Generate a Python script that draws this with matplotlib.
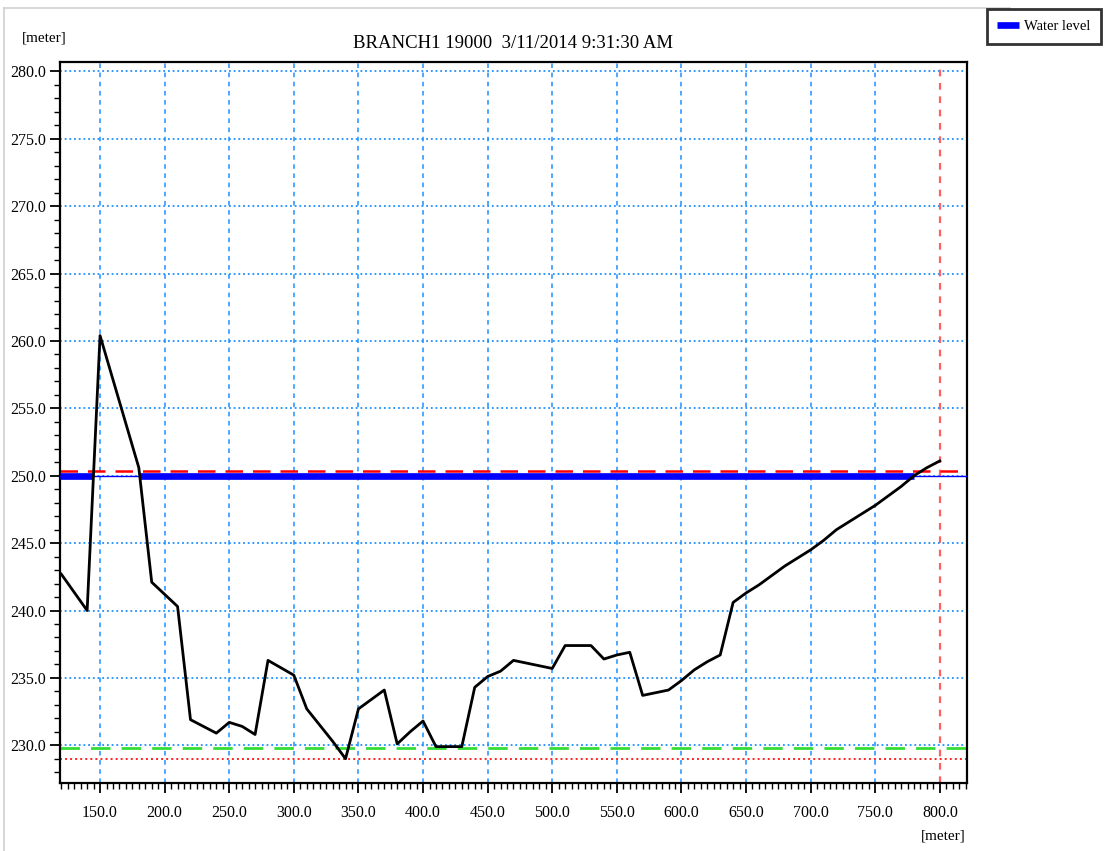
import numpy as np
import matplotlib.pyplot as plt
from matplotlib.lines import Line2D
from matplotlib.ticker import MultipleLocator, FormatStrFormatter

plt.rcParams['font.family'] = ['Liberation Serif', 'DejaVu Serif']

# cross section (chainage [m], bed level [m])
chainage = [120, 140, 150, 180, 190, 210, 220, 240, 250, 260, 270, 280, 300,
            310, 320, 330, 340, 350, 360, 370, 380, 390, 400, 410, 420, 430,
            440, 450, 460, 470, 480, 490, 500, 510, 520, 530, 540, 550, 560,
            570, 580, 590, 600, 610, 620, 630, 640, 650, 660, 670, 680, 690,
            700, 710, 720, 730, 740, 750, 760, 770, 780, 790, 800]
bed_level = [242.7, 240.0, 260.4, 250.6, 242.1, 240.3, 231.9, 230.9, 231.7,
             231.4, 230.8, 236.3, 235.2, 232.7, 231.5, 230.3, 229.0, 232.7,
             233.4, 234.1, 230.1, 231.0, 231.8, 229.9, 229.9, 229.9, 234.3,
             235.1, 235.5, 236.3, 236.1, 235.9, 235.7, 237.4, 237.4, 237.4,
             236.4, 236.7, 236.9, 233.7, 233.9, 234.1, 234.8, 235.6, 236.2,
             236.7, 240.6, 241.3, 241.9, 242.6, 243.3, 243.9, 244.5, 245.2,
             246.0, 246.6, 247.2, 247.8, 248.5, 249.2, 250.0, 250.6, 251.1]

water_level = 250.0
max_level = 250.35     # red dashed
min_level_1 = 229.8    # green dashed
min_level_2 = 229.0    # red dotted
right_marker = 800.0

title = "BRANCH1 19000  3/11/2014 9:31:30 AM"

fig = plt.figure(figsize=(11.07, 8.51), dpi=100)
ax = fig.add_axes([0.0542, 0.0799, 0.8193, 0.8472])

xmin, xmax = 119.0, 821.0
ax.set_xlim(xmin, xmax)
ax.set_ylim(227.2, 280.7)

# grid
grid_blue = '#1E90FF'
for xv in np.arange(150, 800, 50):
    ax.axvline(xv, color=grid_blue, lw=1.1, ls=(0, (3, 3)), zorder=1)
for yv in np.arange(230, 281, 5):
    ax.axhline(yv, color=grid_blue, lw=1.3, ls=(0, (1, 1.6)), zorder=1)
ax.axvline(right_marker, color='#FF6060', lw=1.6, ls=(0, (3, 3)), zorder=1)

# reference levels
ax.axhline(min_level_2, color='#FF2020', lw=1.4, ls=(0, (1, 1.6)), zorder=2)
ax.axhline(min_level_1, color='#33DD33', lw=2.0, ls=(0, (7, 4)), zorder=2)
ax.axhline(max_level, color='#FF0000', lw=1.8, ls=(0, (7, 4)), zorder=2)
ax.axhline(water_level, color='#0000FF', lw=1.0, zorder=3)

# thick water level where the bed lies below it
x = np.array(chainage, dtype=float)
z = np.array(bed_level)
wet = z < water_level
edges = []
for i in range(len(x) - 1):
    if wet[i] != wet[i + 1]:
        t = (water_level - z[i]) / (z[i + 1] - z[i])
        edges.append(x[i] + t * (x[i + 1] - x[i]))
bounds = [xmin] + edges + [xmax] if wet[0] else edges + [xmax]
first = True
for a, b in zip(bounds[0::2], bounds[1::2]):
    ax.plot([a, b], [water_level, water_level], color='#0000FF', lw=4.8,
            solid_capstyle='butt', zorder=4,
            label='Water level' if first else None)
    first = False

ax.plot(chainage, bed_level, color='black', lw=2.0, zorder=5)

# axes styling
for s in ax.spines.values():
    s.set_linewidth(1.6)
ax.xaxis.set_major_locator(MultipleLocator(50))
ax.xaxis.set_minor_locator(MultipleLocator(5))
ax.yaxis.set_major_locator(MultipleLocator(5))
ax.yaxis.set_minor_locator(MultipleLocator(1))
ax.xaxis.set_major_formatter(FormatStrFormatter('%.1f'))
ax.yaxis.set_major_formatter(FormatStrFormatter('%.1f'))
ax.tick_params(which='major', direction='out', length=7, width=1.3,
               labelsize=11.5, pad=3)
ax.tick_params(which='minor', direction='out', length=4, width=1.0)
ax.tick_params(axis='x', pad=9)

ax.set_title(title, fontsize=13.5, pad=10)
fig.text(0.020, 0.955, '[meter]', fontsize=11, ha='left', va='center')
fig.text(0.872, 0.018, '[meter]', fontsize=11, ha='right', va='center')

leg = fig.legend(loc='upper right', bbox_to_anchor=(0.9946, 0.990),
                 fontsize=10.5, frameon=True, fancybox=False,
                 edgecolor='black', handlelength=1.5, handletextpad=0.3,
                 borderpad=0.75, borderaxespad=0.0)
leg.get_frame().set_linewidth(2.0)

# light outer frame
fig.add_artist(Line2D([0.0036, 0.0036], [0.0, 0.9906], color='#D0D0D0',
                      lw=1.2, transform=fig.transFigure))
fig.add_artist(Line2D([0.0036, 0.912], [0.9906, 0.9906], color='#D0D0D0',
                      lw=1.2, transform=fig.transFigure))

fig.savefig('out.png', dpi=100)
